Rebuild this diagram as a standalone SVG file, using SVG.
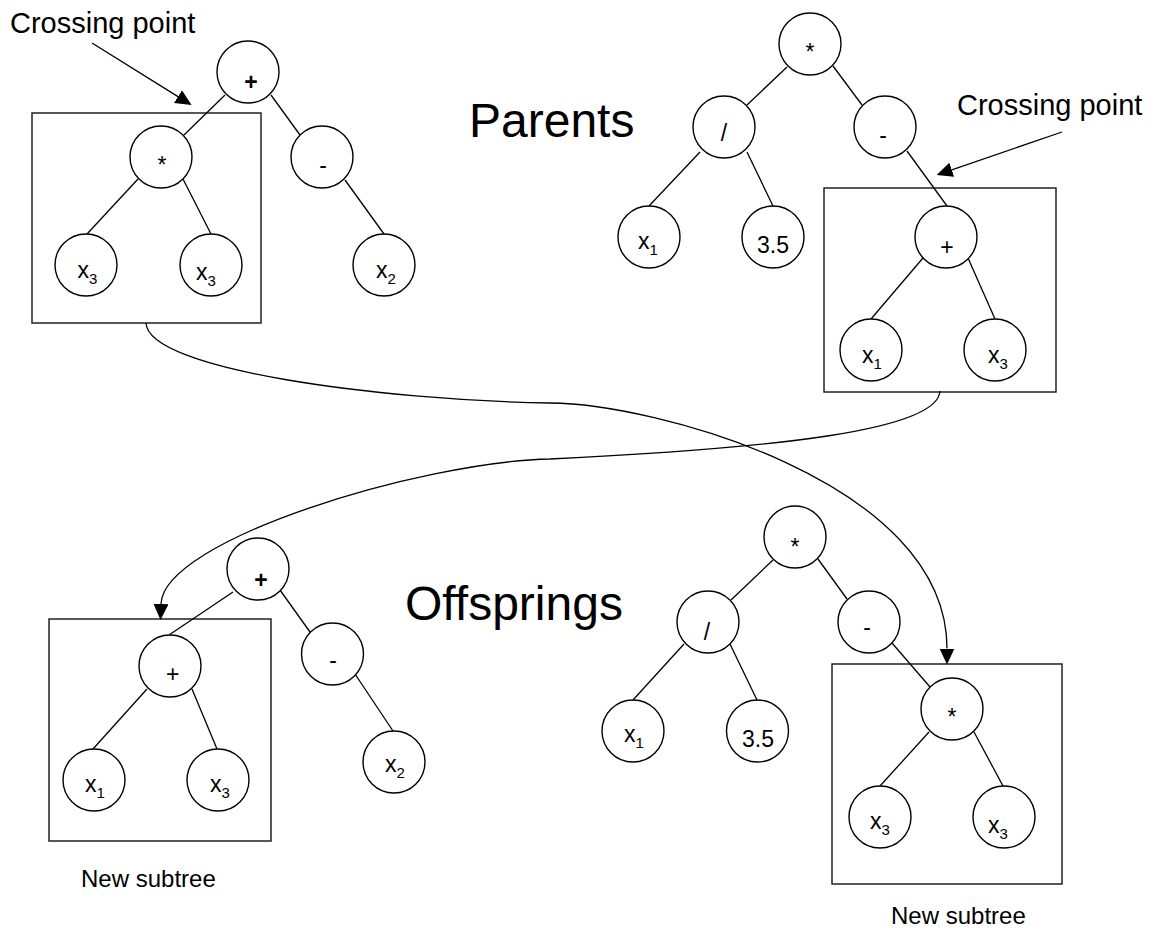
<svg xmlns="http://www.w3.org/2000/svg" width="1153" height="930" viewBox="0 0 1153 930">
<defs>
<style>
.n{fill:#fff;stroke:#000;stroke-width:1.4}
.b{fill:none;stroke:#222;stroke-width:1.5}
.e{stroke:#000;stroke-width:1.3;fill:none}
.t{font-family:"Liberation Sans",Arial,sans-serif;font-size:23px;fill:#000;text-anchor:middle}
.bd{font-weight:bold}
.s{font-size:15px}
.big{font-family:"Liberation Sans",Arial,sans-serif;font-size:48px;fill:#000}
.cp{font-family:"Liberation Sans",Arial,sans-serif;font-size:29px;fill:#000}
.ns{font-family:"Liberation Sans",Arial,sans-serif;font-size:24px;fill:#000}
</style>
<marker id="ah" markerWidth="17" markerHeight="16" refX="0" refY="7.5" orient="auto" markerUnits="userSpaceOnUse"><path d="M0,0 L16,7.5 L0,15 z" fill="#000"/></marker>
</defs>
<rect width="1153" height="930" fill="#fff"/>

<g id="boxes">
<rect id="box-tl" class="b" x="32" y="113" width="229" height="210"/>
<rect id="box-tr" class="b" x="824" y="188" width="232" height="204"/>
<rect id="box-bl" class="b" x="49" y="619" width="222" height="222"/>
<rect id="box-br" class="b" x="832" y="664" width="230" height="220"/>
</g>

<g id="connectors">
<!-- top-left tree -->
<line class="e" x1="225" y1="95" x2="184" y2="135"/>
<line class="e" x1="271" y1="95" x2="300" y2="135"/>
<line class="e" x1="138" y1="179" x2="87" y2="234"/>
<line class="e" x1="183" y1="179" x2="211" y2="234"/>
<line class="e" x1="345" y1="180" x2="384" y2="234"/>
<!-- top-right tree -->
<line class="e" x1="787" y1="67" x2="747" y2="105"/>
<line class="e" x1="833" y1="66" x2="862" y2="105"/>
<line class="e" x1="700" y1="152" x2="649" y2="206"/>
<line class="e" x1="747" y1="152" x2="773" y2="206"/>
<line class="e" x1="907" y1="151" x2="947" y2="206"/>
<line class="e" x1="923" y1="258" x2="871" y2="319"/>
<line class="e" x1="968" y1="258" x2="995" y2="319"/>
<!-- bottom-left tree -->
<line class="e" x1="233" y1="592" x2="169" y2="635"/>
<line class="e" x1="280" y1="590" x2="310" y2="632"/>
<line class="e" x1="147" y1="689" x2="93" y2="749"/>
<line class="e" x1="192" y1="689" x2="217" y2="749"/>
<line class="e" x1="355" y1="674" x2="393" y2="731"/>
<!-- bottom-right tree -->
<line class="e" x1="773" y1="560" x2="731" y2="600"/>
<line class="e" x1="818" y1="559" x2="847" y2="599"/>
<line class="e" x1="684" y1="644" x2="633" y2="700"/>
<line class="e" x1="730" y1="644" x2="757" y2="700"/>
<line class="e" x1="892" y1="643" x2="930" y2="687"/>
<line class="e" x1="929" y1="732" x2="880" y2="786"/>
<line class="e" x1="974" y1="732" x2="1003" y2="786"/>
<!-- crossing point pointers -->
<line class="e" x1="92" y1="43" x2="178" y2="96.6" marker-end="url(#ah)"/>
<line class="e" x1="1062" y1="132" x2="951.8" y2="169.8" marker-end="url(#ah)"/>
<!-- subtree exchange curves -->
<path class="e" d="M146,323 C148,370 380,400 550,403 C650,403 947,480 947,648.5" marker-end="url(#ah)"/>
<path class="e" d="M940,391 C938,430 780,448 550,459 C420,462 163,540 161,604" marker-end="url(#ah)"/>
</g>

<g id="tl-plus"><circle class="n" cx="248" cy="72" r="31"/><text class="t bd" x="251" y="90">+</text></g>
<g id="tl-mul"><circle class="n" cx="161" cy="157" r="31"/><text class="t" x="162" y="173">*</text></g>
<g id="tl-minus"><circle class="n" cx="322" cy="157" r="31"/><text class="t" x="323" y="173">-</text></g>
<g id="tl-x3a"><circle class="n" cx="86" cy="265" r="31"/><text class="t" x="87.5" y="278">x<tspan class="s" dy="6">3</tspan></text></g>
<g id="tl-x3b"><circle class="n" cx="211" cy="265" r="31"/><text class="t" x="206" y="280">x<tspan class="s" dy="6">3</tspan></text></g>
<g id="tl-x2"><circle class="n" cx="384" cy="265" r="31"/><text class="t" x="386" y="278">x<tspan class="s" dy="6">2</tspan></text></g>

<g id="tr-mul"><circle class="n" cx="810" cy="44" r="31"/><text class="t" x="810" y="60">*</text></g>
<g id="tr-div"><circle class="n" cx="724" cy="127" r="31"/><text class="t" x="724" y="141">/</text></g>
<g id="tr-minus"><circle class="n" cx="885" cy="127" r="31"/><text class="t" x="883" y="143">-</text></g>
<g id="tr-x1"><circle class="n" cx="649" cy="237" r="31"/><text class="t" x="648" y="249">x<tspan class="s" dy="6">1</tspan></text></g>
<g id="tr-35"><circle class="n" cx="773" cy="237" r="31"/><text class="t" x="773" y="253">3.5</text></g>
<g id="tr-plus"><circle class="n" cx="946" cy="237" r="31"/><text class="t" x="947" y="255">+</text></g>
<g id="tr-x1b"><circle class="n" cx="871" cy="350" r="31"/><text class="t" x="872" y="363">x<tspan class="s" dy="6">1</tspan></text></g>
<g id="tr-x3"><circle class="n" cx="995" cy="350" r="31"/><text class="t" x="998" y="363">x<tspan class="s" dy="6">3</tspan></text></g>

<g id="bl-plus"><circle class="n" cx="258" cy="569" r="31"/><text class="t bd" x="261" y="587.5">+</text></g>
<g id="bl-plus2"><circle class="n" cx="170" cy="666" r="31"/><text class="t" x="172.7" y="682">+</text></g>
<g id="bl-minus"><circle class="n" cx="332.5" cy="654" r="31"/><text class="t" x="333" y="668">-</text></g>
<g id="bl-x1"><circle class="n" cx="94" cy="780" r="31"/><text class="t" x="95" y="792">x<tspan class="s" dy="6">1</tspan></text></g>
<g id="bl-x3"><circle class="n" cx="218" cy="780" r="31"/><text class="t" x="220" y="792">x<tspan class="s" dy="6">3</tspan></text></g>
<g id="bl-x2"><circle class="n" cx="394" cy="762" r="31"/><text class="t" x="395" y="772">x<tspan class="s" dy="6">2</tspan></text></g>

<g id="br-mul"><circle class="n" cx="795" cy="537" r="31"/><text class="t" x="795" y="554.7">*</text></g>
<g id="br-div"><circle class="n" cx="708" cy="622" r="31"/><text class="t" x="707" y="640">/</text></g>
<g id="br-minus"><circle class="n" cx="869" cy="622" r="31"/><text class="t" x="867" y="634.5">-</text></g>
<g id="br-x1"><circle class="n" cx="633" cy="731" r="31"/><text class="t" x="634" y="742">x<tspan class="s" dy="6">1</tspan></text></g>
<g id="br-35"><circle class="n" cx="757.5" cy="731" r="31"/><text class="t" x="758" y="746.7">3.5</text></g>
<g id="br-mul2"><circle class="n" cx="952" cy="709" r="31"/><text class="t" x="952" y="725">*</text></g>
<g id="br-x3a"><circle class="n" cx="880" cy="817" r="31"/><text class="t" x="880" y="829">x<tspan class="s" dy="6">3</tspan></text></g>
<g id="br-x3b"><circle class="n" cx="1004" cy="817" r="31"/><text class="t" x="998" y="833">x<tspan class="s" dy="6">3</tspan></text></g>

<g id="labels">
<text class="cp" x="10" y="33">Crossing point</text>
<text class="cp" x="957" y="115">Crossing point</text>
<text class="big" x="469" y="137">Parents</text>
<text class="big" x="405" y="620">Offsprings</text>
<text class="ns" x="81" y="887">New subtree</text>
<text class="ns" x="891" y="924">New subtree</text>
</g>
</svg>
